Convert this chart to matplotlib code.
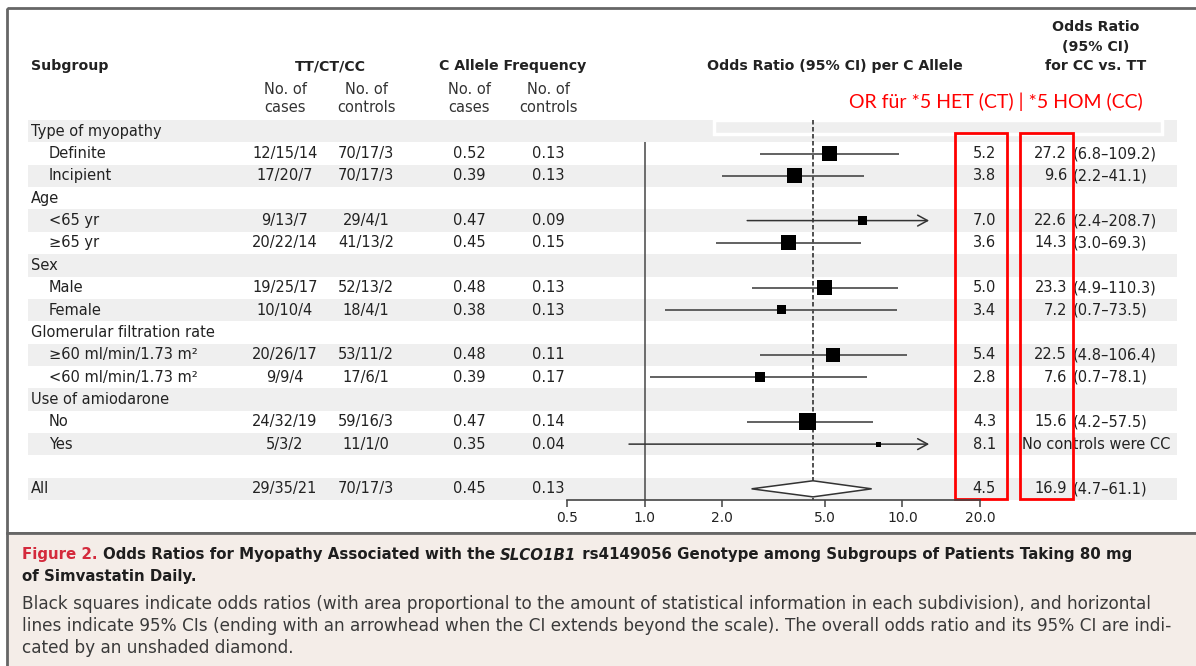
import matplotlib
matplotlib.use("Agg")
import matplotlib.pyplot as plt
from matplotlib.patches import Rectangle
import numpy as np

plt.rcParams['font.family'] = ['DejaVu Sans']

# ---- data ----
subgroup_labels = ["Type of myopathy", "Definite", "Incipient", "Age", "<65 yr", "\u226565 yr",
                   "Sex", "Male", "Female", "Glomerular filtration rate",
                   "\u226560 ml/min/1.73 m\u00b2", "<60 ml/min/1.73 m\u00b2",
                   "Use of amiodarone", "No", "Yes", "", "All"]
subgroup_level = [0, 1, 1, 0, 1, 1, 0, 1, 1, 0, 1, 1, 0, 1, 1, 0, 0]

tt_cases = [None, "12/15/14", "17/20/7", None, "9/13/7", "20/22/14", None, "19/25/17", "10/10/4",
            None, "20/26/17", "9/9/4", None, "24/32/19", "5/3/2", None, "29/35/21"]
tt_controls = [None, "70/17/3", "70/17/3", None, "29/4/1", "41/13/2", None, "52/13/2", "18/4/1",
               None, "53/11/2", "17/6/1", None, "59/16/3", "11/1/0", None, "70/17/3"]

freq_cases = [0.52, 0.39, 0.47, 0.45, 0.48, 0.38, 0.48, 0.39, 0.47, 0.35, 0.45]
freq_controls = [0.13, 0.13, 0.09, 0.15, 0.13, 0.13, 0.11, 0.17, 0.14, 0.04, 0.13]

or_allele = [5.2, 3.8, 7.0, 3.6, 5.0, 3.4, 5.4, 2.8, 4.3, 8.1, 4.5]
ci_low = [2.8, 2.0, 2.5, 1.9, 2.6, 1.2, 2.8, 1.05, 2.5, 0.87, 2.6]
ci_high = [9.7, 7.1, None, 6.9, 9.6, 9.5, 10.4, 7.3, 7.7, None, 7.6]   # None: beyond scale
info_size = [15, 15, 9, 15, 15, 9, 14, 10, 17, 5]                    # square side (px)

or_cc = ["27.2", "9.6", "22.6", "14.3", "23.3", "7.2", "22.5", "7.6", "15.6", None, "16.9"]
ci_cc = ["(6.8\u2013109.2)", "(2.2\u201341.1)", "(2.4\u2013208.7)", "(3.0\u201369.3)",
         "(4.9\u2013110.3)", "(0.7\u201373.5)", "(4.8\u2013106.4)", "(0.7\u201378.1)",
         "(4.2\u201357.5)", None, "(4.7\u201361.1)"]

xticks = [0.5, 1.0, 2.0, 5.0, 10.0, 20.0]
xtick_labels = ["0.5", "1.0", "2.0", "5.0", "10.0", "20.0"]
overall_or = 4.5
arrow_end = 12.7

# ---- layout (pixels) ----
W, H = 1196, 666
ROW_TOP, ROW_H = 120, 22.36
N = len(subgroup_labels)
TXT = '#222222'
FS = 10.5

fig = plt.figure(figsize=(W / 100, H / 100), dpi=100)
bg = fig.add_axes([0, 0, 1, 1])
bg.set_xlim(0, W)
bg.set_ylim(H, 0)
bg.axis('off')

def row_y(i):
    return ROW_TOP + ROW_H * (i + 0.5)

# frame + caption box
bg.add_patch(Rectangle((7, 8), W, 525, fill=False, ec='#666666', lw=2))
bg.add_patch(Rectangle((7, 533), W, 140, fc='#f4ede8', ec='#666666', lw=2))

# row bands
for i in range(N):
    if i % 2 == 0:
        bg.add_patch(Rectangle((28, ROW_TOP + i * ROW_H), 1177 - 28, ROW_H, fc='#efefef', ec='none'))
bg.add_patch(Rectangle((714, 120), 448, 14, fill=False, ec='white', lw=2.5))

# headers
hb = dict(fontsize=10.2, fontweight='bold', color=TXT, va='center')
bg.text(31, 66, "Subgroup", ha='left', **hb)
bg.text(330, 66, "TT/CT/CC", ha='center', **hb)
bg.text(513, 66, "C Allele Frequency", ha='center', **hb)
bg.text(835, 66, "Odds Ratio (95% CI) per C Allele", ha='center', **hb)
bg.text(1096, 27, "Odds Ratio", ha='center', **hb)
bg.text(1096, 47, "(95% CI)", ha='center', **hb)
bg.text(1096, 66, "for CC vs. TT", ha='center', **hb)
for cx, word in [(285, "cases"), (366, "controls"), (469, "cases"), (548, "controls")]:
    bg.text(cx, 89, "No. of", ha='center', va='center', fontsize=FS, color='#333333')
    bg.text(cx, 107, word, ha='center', va='center', fontsize=FS, color='#333333')

bg.text(996, 102, "OR f\u00fcr *5 HET (CT) | *5 HOM (CC)", ha='center', va='center',
        fontsize=14, color='#ff0000', family=['Lato', 'DejaVu Sans'])

# table text
data_idx = [i for i, v in enumerate(tt_cases) if v]
for i, (lab, lev) in enumerate(zip(subgroup_labels, subgroup_level)):
    bg.text(31 if lev == 0 else 49, row_y(i), lab, ha='left', va='center', fontsize=FS, color=TXT)
for k, i in enumerate(data_idx):
    y = row_y(i)
    bg.text(285, y, tt_cases[i], ha='center', va='center', fontsize=FS, color=TXT)
    bg.text(366, y, tt_controls[i], ha='center', va='center', fontsize=FS, color=TXT)
    bg.text(469, y, f"{freq_cases[k]:.2f}", ha='center', va='center', fontsize=FS, color=TXT)
    bg.text(548, y, f"{freq_controls[k]:.2f}", ha='center', va='center', fontsize=FS, color=TXT)
    bg.text(996, y, f"{or_allele[k]:.1f}", ha='right', va='center', fontsize=FS, color=TXT)
    if or_cc[k] is None:
        bg.text(1022, y, "No controls were CC", ha='left', va='center', fontsize=FS, color=TXT)
    else:
        bg.text(1067, y, or_cc[k], ha='right', va='center', fontsize=FS, color=TXT)
        bg.text(1073, y, ci_cc[k], ha='left', va='center', fontsize=FS, color=TXT)

# red highlight boxes
bg.add_patch(Rectangle((955, 133), 52, 366, fill=False, ec='#ff0000', lw=2, zorder=5))
bg.add_patch(Rectangle((1020, 133), 53, 366, fill=False, ec='#ff0000', lw=2, zorder=5))

# ---- forest plot ----
ax = fig.add_axes([567 / W, 1 - 500 / H, (980 - 567) / W, 380 / H])
ax.set_facecolor('none')
ax.set_xscale('log')
ax.set_xlim(0.5, 20)
ax.set_ylim(N - 0.5, -0.5)
for s in ['top', 'left', 'right']:
    ax.spines[s].set_visible(False)
ax.spines['bottom'].set_color('#444444')
ax.spines['bottom'].set_linewidth(1.2)
ax.set_xticks(xticks)
ax.set_xticklabels(xtick_labels)
ax.minorticks_off()
ax.set_yticks([])
ax.tick_params(axis='x', direction='out', length=5, width=1.1, color='#444444',
               labelsize=10, labelcolor=TXT, pad=3)

ax.vlines(1.0, 0.5, N - 0.5, color='#555555', lw=1.2)
ax.vlines(overall_or, -0.5, N - 0.5, color='#333333', lw=1.2, linestyles=(0, (2.7, 1.5)))

ys = np.array(data_idx, dtype=float)
for k in range(len(data_idx) - 1):
    y = ys[k]
    if ci_high[k] is None:
        ax.annotate('', xy=(arrow_end, y), xytext=(ci_low[k], y),
                    arrowprops=dict(arrowstyle='->,head_length=0.55,head_width=0.3',
                                    color='#333333', lw=1.1, mutation_scale=13,
                                    shrinkA=0, shrinkB=0))
    else:
        ax.hlines(y, ci_low[k], ci_high[k], color='#555555', lw=1.3)
sz = (np.array(info_size) * 0.72) ** 2
ax.scatter(or_allele[:-1], ys[:-1], s=sz, marker='s', c='black', linewidths=0, zorder=4)

y_all = ys[-1]
ax.fill([ci_low[-1], or_allele[-1], ci_high[-1], or_allele[-1]],
        [y_all, y_all - 0.36, y_all, y_all + 0.36], fc='white', ec='#333333', lw=1.1, zorder=4)

# ---- caption ----
renderer = fig.canvas.get_renderer()

def advance(s, **kw):
    t1 = bg.text(0, 0, s + 'I', **kw)
    t2 = bg.text(0, 0, 'I', **kw)
    w = t1.get_window_extent(renderer).width - t2.get_window_extent(renderer).width
    t1.remove()
    t2.remove()
    return w

def runs(x, y, parts, size):
    for s, kw in parts:
        style = dict(fontsize=size, va='center', ha='left')
        style.update(kw)
        bg.text(x, y, s, **style)
        x += advance(s, **style)

bold = dict(fontweight='bold', color='#1e1e1e')
CAP_B = 10.8
CAP = 12.2
runs(22, 555, [("Figure 2. ", dict(fontweight='bold', color='#d42a3c')),
               ("Odds Ratios for Myopathy Associated with the ", bold),
               ("SLCO1B1", dict(fontweight='bold', style='italic', color='#1e1e1e')),
               (" rs4149056 Genotype among Subgroups of Patients Taking 80 mg", bold)], CAP_B)
runs(22, 577, [("of Simvastatin Daily.", bold)], CAP_B)
cap_lines = ["Black squares indicate odds ratios (with area proportional to the amount of statistical "
             "information in each subdivision), and horizontal",
             "lines indicate 95% CIs (ending with an arrowhead when the CI extends beyond the scale). "
             "The overall odds ratio and its 95% CI are indi-",
             "cated by an unshaded diamond."]
for j, line in enumerate(cap_lines):
    bg.text(22, 604 + 22 * j, line, ha='left', va='center', fontsize=CAP, color='#3a3a3a')

fig.savefig("out.png", dpi=100, facecolor='white')
